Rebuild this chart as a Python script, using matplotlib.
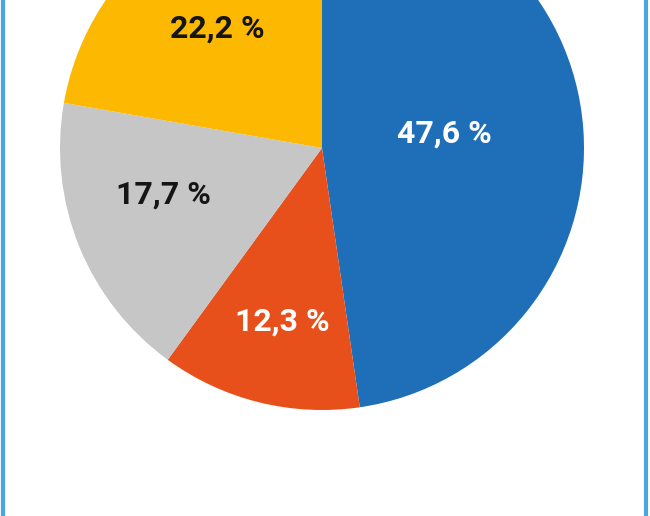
import numpy as np
import matplotlib
matplotlib.use("Agg")
import matplotlib.pyplot as plt
from matplotlib.lines import Line2D

# Datos (sentido horario desde las 12)
valores = [47.6, 12.3, 17.7, 22.2]
etiquetas = ["47,6 %", "12,3 %", "17,7 %", "22,2 %"]
colores = ["#1f6fb8", "#e8501b", "#c6c6c6", "#fdb801"]
color_texto = ["white", "white", "#151515", "#151515"]
# posicion de las etiquetas: distancia al centro y desvio del angulo medio
dist_texto = [0.47, 0.68, 0.63, 0.605]
desvio_ang = [2.8, 0.9, -5.7, 1.3]

fig = plt.figure(figsize=(6.5, 5.16), dpi=100)
ax = fig.add_axes([0, 0, 1, 1])

wedges, _ = ax.pie(valores, colors=colores, startangle=90, counterclock=False,
                   wedgeprops=dict(linewidth=0))

# Etiquetas en el angulo medio de cada porcion
for w, txt, c, d, da in zip(wedges, etiquetas, color_texto, dist_texto, desvio_ang):
    ang = np.deg2rad((w.theta1 + w.theta2) / 2 + da)
    ax.text(d * np.cos(ang), d * np.sin(ang), txt, ha="center", va="center",
            color=c, fontsize=23, fontweight="bold", family=["Roboto", "DejaVu Sans"])

# el grafico esta recortado: centro en (322, 148) px, radio 262 px
R = 262.0
ax.set_aspect("auto")
ax.set_xlim(-322 / R, (650 - 322) / R)
ax.set_ylim(-(516 - 148) / R, 148 / R)
ax.axis("off")

# bordes azules laterales
for x in [3 / 650, 646 / 650]:
    fig.add_artist(Line2D([x, x], [0, 1], transform=fig.transFigure,
                          color="#4aa6e0", linewidth=3))

fig.savefig("out.png", dpi=100)
